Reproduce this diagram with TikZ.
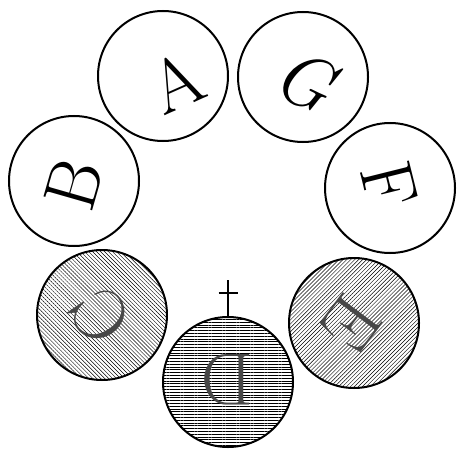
\documentclass[tikz,border=0pt]{standalone}
\usetikzlibrary{patterns.meta}

\tikzset{
  coin/.style={circle, draw, line width=2pt, minimum size=130pt, inner sep=0pt},
  glyph/.style={font=\fontsize{74}{74}\selectfont, inner sep=0pt},
  dimglyph/.style={glyph, text=black!72},
  backslash hatch/.style={pattern={Lines[angle=-45,distance=2.8pt,line width=0.45pt]}},
  slash hatch/.style={pattern={Lines[angle=45,distance=2.8pt,line width=0.45pt]}},
  level hatch/.style={pattern={Lines[angle=0,distance=2.8pt,line width=0.5pt]}},
}

\begin{document}
\begin{tikzpicture}[x=1pt,y=1pt]
    \useasboundingbox (0,0) rectangle (457,448);

    % Define the seven discs of the ring
    \node[coin] (A) at (163,372) {};
    \node[coin] (G) at (303,371) {};
    \node[coin] (B) at (74,267) {};
    \node[coin] (F) at (390,260) {};
    \node[coin, backslash hatch] (C) at (102,133) {};
    \node[coin, level hatch] (D) at (228,66) {};
    \node[coin, slash hatch] (E) at (354,125) {};

    % Letters, turned outwards from the middle of the ring
    \node[glyph, rotate=24] (a) at (176,366) {A};
    \node[glyph, rotate=-25] (g) at (305,368) {\itshape G};
    \node[glyph, rotate=74] (b) at (74,264) {B};
    \node[glyph, rotate=-76] (f) at (389,263) {F};
    \node[dimglyph, rotate=124] (c) at (101,132) {C};
    \node[dimglyph, rotate=180] (d) at (227,68) {D};
    \node[dimglyph, rotate=-127] (e) at (352,125) {E};

    % Cross standing on the lowest disc
    \coordinate (crosstop) at ([yshift=37pt]D.north);
    \coordinate (barleft) at ([xshift=-9.5pt,yshift=24pt]D.north);
    \coordinate (barright) at ([xshift=9.5pt,yshift=24pt]D.north);
    \draw[line width=1.6pt] (D.north) -- (crosstop);
    \draw[line width=1.6pt] (barleft) -- (barright);
\end{tikzpicture}
\end{document}
